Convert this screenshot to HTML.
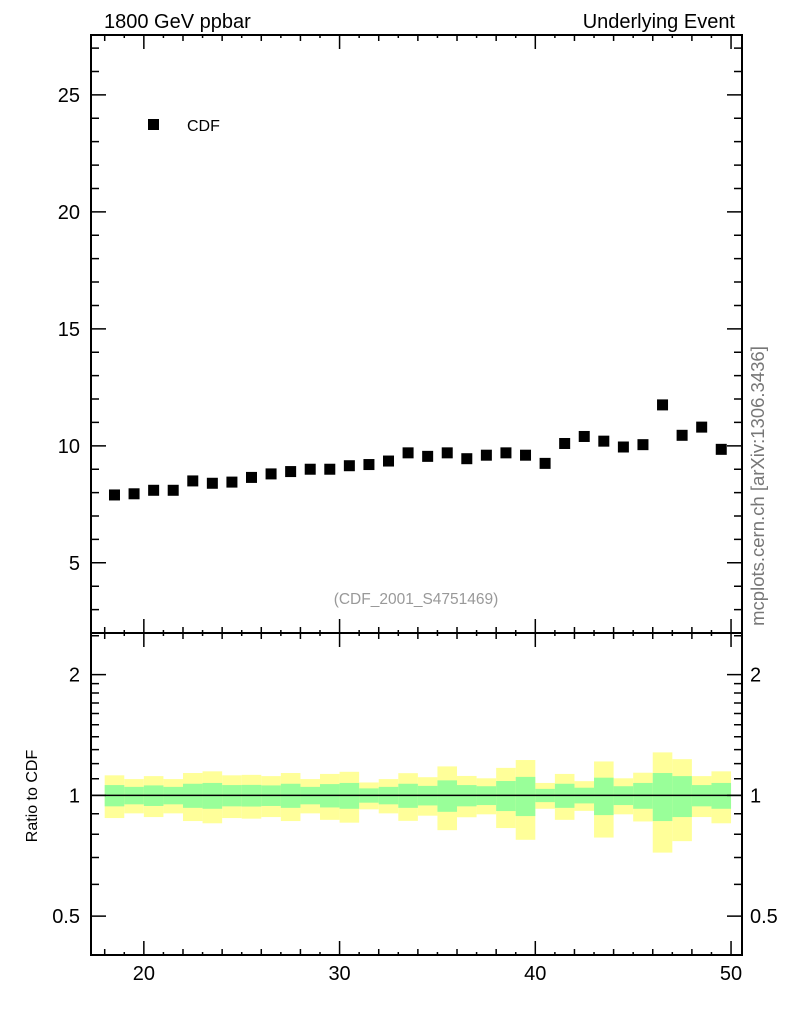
<!DOCTYPE html>
<html><head><meta charset="utf-8"><style>
body{margin:0;background:#fff;}
svg text{font-family:"Liberation Sans",sans-serif;}
</style></head><body>
<svg id="c" width="786" height="1024" xmlns="http://www.w3.org/2000/svg"></svg>
<script>
const xCenters=[18.5,19.5,20.5,21.5,22.5,23.5,24.5,25.5,26.5,27.5,28.5,29.5,30.5,31.5,32.5,33.5,34.5,35.5,36.5,37.5,38.5,39.5,40.5,41.5,42.5,43.5,44.5,45.5,46.5,47.5,48.5,49.5];
const cdfValues=[7.9,7.95,8.1,8.1,8.5,8.4,8.45,8.65,8.8,8.9,9.0,9.0,9.15,9.2,9.35,9.7,9.55,9.7,9.45,9.6,9.7,9.6,9.25,10.1,10.4,10.2,9.95,10.05,11.75,10.45,10.8,9.85];
const totErr=[.122,.098,.117,.098,.137,.148,.122,.125,.117,.137,.098,.131,.145,.077,.098,.136,.11,.181,.118,.103,.171,.225,.074,.131,.085,.215,.103,.139,.28,.231,.117,.148];
const statErr=[.061,.05,.059,.05,.069,.074,.061,.062,.059,.069,.05,.067,.074,.041,.05,.069,.056,.09,.061,.054,.086,.112,.038,.069,.045,.107,.054,.074,.137,.117,.061,.074];
const xTicks=[20,30,40,50];
const yTicks=[5,10,15,20,25];
const rTicks=[0.5,1,2];

const svg=document.getElementById('c');
const NS='http://www.w3.org/2000/svg';
function el(t,a,txt){const e=document.createElementNS(NS,t);for(const k in a)e.setAttribute(k,a[k]);if(txt!==undefined)e.textContent=txt;svg.appendChild(e);return e;}
const L=91,R=742,T=35,M=633,B=955;
const X=v=>L+(v-17.3)*(R-L)/(50.56-17.3);
const Y=v=>M-(v-2.0)*(M-T)/(27.56-2.0);
const lr0=Math.log(0.40),lr1=Math.log(2.54);
const RY=v=>B-(Math.log(v)-lr0)*(B-M)/(lr1-lr0);

xCenters.forEach((c,i)=>{
  let r=el('rect',{x:X(c-0.5),y:RY(1+totErr[i]),width:X(c+0.5)-X(c-0.5),height:RY(1-totErr[i])-RY(1+totErr[i]),fill:'#ffff99'});
  
  
});
xCenters.forEach((c,i)=>{
  let r=el('rect',{x:X(c-0.5),y:RY(1+statErr[i]),width:X(c+0.5)-X(c-0.5),height:RY(1-statErr[i])-RY(1+statErr[i]),fill:'#99ff99'});
  
  
});
el('line',{x1:L,x2:R,y1:RY(1),y2:RY(1),stroke:'#000','stroke-width':1.5,});

xCenters.forEach((c,i)=>{
  let r=el('rect',{x:X(c)-5.5,y:Y(cdfValues[i])-5.5,width:11,height:11,fill:'#000'});
  
  
});

el('rect',{x:L,y:T,width:R-L,height:M-T,fill:'none',stroke:'#000','stroke-width':2,});
el('rect',{x:L,y:M,width:R-L,height:B-M,fill:'none',stroke:'#000','stroke-width':2,});

let tk='';
for(let v=18;v<=50;v++){
  const len=v%10==0?14:(v%2==0?6:3);
  const x=X(v);
  tk+=`M${x} ${B}v${-len}M${x} ${M}v${-len}M${x} ${M}v${len}M${x} ${T}v${len}`;
}
for(let v=3;v<=27;v++){
  const len=v%5==0?15:8;const y=Y(v);
  tk+=`M${L} ${y}h${len}M${R} ${y}h${-len}`;
}
const rmin=[0.4,0.6,0.7,0.8,0.9,1.1,1.2,1.3,1.4,1.5,1.6,1.7,1.8,1.9,2.5];
rmin.forEach(v=>{const y=RY(v);tk+=`M${L} ${y}h8M${R} ${y}h-8`;});
rTicks.forEach(v=>{const y=RY(v);tk+=`M${L} ${y}h15M${R} ${y}h-15`;});
el('path',{d:tk,stroke:'#000','stroke-width':1.5,fill:'none',});

xTicks.forEach(v=>{let t=el('text',{x:X(v),y:980,'font-size':20,'text-anchor':'middle'},String(v));});
yTicks.forEach(v=>{let t=el('text',{x:80,y:Y(v)+7,'font-size':20,'text-anchor':'end'},String(v));});
rTicks.forEach(v=>{
  let t=el('text',{x:80,y:RY(v)+7,'font-size':20,'text-anchor':'end'},String(v));
  let t2=el('text',{x:750,y:RY(v)+7,'font-size':20},String(v));
});

el('text',{x:104,y:28,'font-size':20,},'1800 GeV ppbar');
el('text',{x:735,y:28,'font-size':20,'text-anchor':'end',},'Underlying Event');
el('rect',{x:148,y:119,width:11,height:11,fill:'#000',});
el('text',{x:187,y:131,'font-size':16,},'CDF');
el('text',{x:416,y:604,'font-size':15.5,fill:'#999','text-anchor':'middle',},'(CDF_2001_S4751469)');
el('text',{x:0,y:0,'font-size':18.5,fill:'#777','text-anchor':'middle',transform:'translate(764,486) rotate(-90)',},'mcplots.cern.ch [arXiv:1306.3436]');
el('text',{x:0,y:0,'font-size':16,'text-anchor':'middle',transform:'translate(37,796) rotate(-90)',},'Ratio to CDF');
</script>
</body></html>
